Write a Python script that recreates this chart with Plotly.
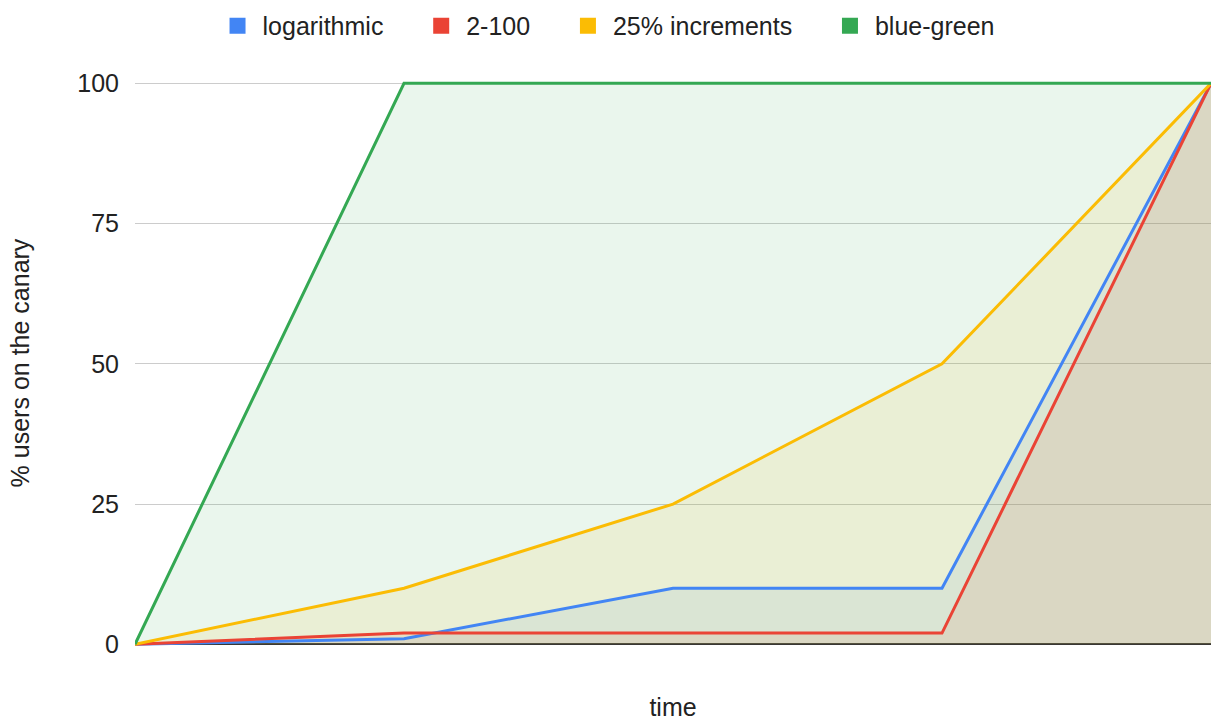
import plotly.graph_objects as go

steps = [0, 1, 2, 3, 4]
series_names = ["logarithmic", "2-100", "25% increments", "blue-green"]
logarithmic = [0, 1, 10, 10, 100]
two_to_100 = [0, 2, 2, 2, 100]
increments_25 = [0, 10, 25, 50, 100]
blue_green = [0, 100, 100, 100, 100]
y_ticks = [0, 25, 50, 75, 100]

colors = ["#4285F4", "#EA4335", "#FBBC04", "#34A853"]
fills = ["rgba(66,133,244,0.1)", "rgba(234,67,53,0.1)",
         "rgba(251,188,4,0.1)", "rgba(52,168,83,0.1)"]
values = [logarithmic, two_to_100, increments_25, blue_green]

fig = go.Figure()
# fills first (no lines)
for name, vals, f in zip(series_names, values, fills):
    fig.add_trace(go.Scatter(x=steps, y=vals, mode="lines", fill="tozeroy",
                             fillcolor=f, line=dict(width=0),
                             showlegend=False, hoverinfo="skip"))
# lines on top
for name, vals, c in zip(series_names, values, colors):
    fig.add_trace(go.Scatter(x=steps, y=vals, mode="lines",
                             line=dict(color=c, width=3),
                             showlegend=False, name=name))
# legend entries
for name, c in zip(series_names, colors):
    fig.add_trace(go.Scatter(x=[None], y=[None], mode="markers", name=name + "    ",
                             marker=dict(symbol="square", size=22, color=c)))

font_family = "Liberation Sans, Arial, sans-serif"
fig.update_layout(
    width=1211, height=721,
    margin=dict(l=135, r=0, t=80, b=75),
    plot_bgcolor="white", paper_bgcolor="white",
    font=dict(family=font_family, size=25, color="#222"),
    legend=dict(orientation="h", x=0.512, xanchor="center", xref="container",
                y=0.996, yanchor="top", yref="container",
                font=dict(size=25, color="#222"),
                itemwidth=40, tracegroupgap=0),
    xaxis=dict(range=[0, 4], showticklabels=False, showgrid=False, zeroline=False,
               showline=False, ticks="", automargin=False,
               title=dict(text="time", font=dict(size=25, color="#222"), standoff=60)),
    yaxis=dict(range=[-0.3, 100.6], tickvals=y_ticks, ticktext=[str(v) for v in y_ticks],
               showgrid=True, gridcolor="#cccccc", gridwidth=1,
               zeroline=True, zerolinecolor="#333333", zerolinewidth=2,
               ticks="", ticklabelstandoff=15,
               tickfont=dict(size=25, color="#222"),
               title=dict(text="% users on the canary", font=dict(size=25, color="#222"), standoff=40)),
)
fig.write_html("out.html")
